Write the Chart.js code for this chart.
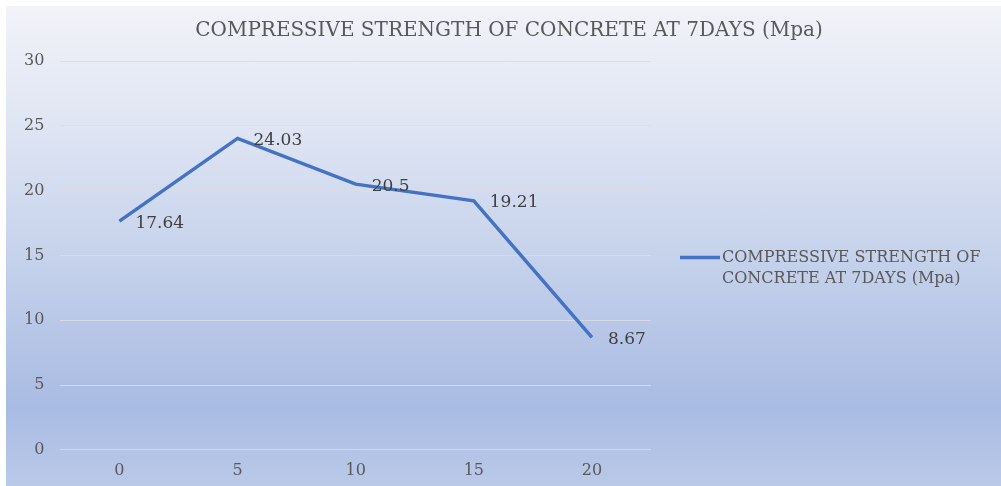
<!DOCTYPE html>
<html>
<head>
<meta charset="utf-8">
<script src="https://cdn.jsdelivr.net/npm/chart.js@4.4.0/dist/chart.umd.min.js"></script>
<style>
  html, body { margin: 0; padding: 0; background: #ffffff; }
  #wrap {
    position: absolute; left: 6px; top: 6px; width: 995px; height: 480px;
    background: linear-gradient(to bottom, #f2f3f9 0%, #dfe5f3 25%, #c8d4ec 50%, #aebfe4 78%, #a9bce3 84%, #bac9e8 100%);
  }
  canvas { display: block; }
</style>
</head>
<body>
<div id="wrap"><canvas id="c" width="995" height="480"></canvas></div>
<script>
const categories = ["0", "5", "10", "15", "20"];
const strengthValues = [17.64, 24.03, 20.5, 19.21, 8.67];
const seriesName = "COMPRESSIVE STRENGTH OF CONCRETE AT 7DAYS (Mpa)";
const legendLines = ["COMPRESSIVE STRENGTH OF", "CONCRETE AT 7DAYS (Mpa)"];
const titleText = "COMPRESSIVE STRENGTH OF CONCRETE AT 7DAYS (Mpa)";

const textColor = "#595959";
const lineColor = "#4472C4";

const titlePlugin = {
  id: "centerTitle",
  afterDraw(chart) {
    const ctx = chart.ctx;
    ctx.save();
    ctx.font = "20px 'DejaVu Serif'";
    ctx.fillStyle = textColor;
    ctx.textAlign = "center";
    ctx.textBaseline = "middle";
    ctx.fillText(titleText, 503, 25);
    ctx.restore();
  }
};

const dataLabelPlugin = {
  id: "dataLabels",
  afterDatasetsDraw(chart) {
    const ctx = chart.ctx;
    const meta = chart.getDatasetMeta(0);
    ctx.save();
    ctx.font = "17px 'DejaVu Serif'";
    ctx.fillStyle = "#404040";
    ctx.textAlign = "left";
    ctx.textBaseline = "middle";
    meta.data.forEach((pt, i) => {
      ctx.fillText(String(chart.data.datasets[0].data[i]), pt.x + 16, pt.y + 2);
    });
    ctx.restore();
  }
};

const sideLegendPlugin = {
  id: "sideLegend",
  afterDraw(chart) {
    const ctx = chart.ctx;
    const a = chart.chartArea;
    const cy = (a.top + a.bottom) / 2;
    const x0 = a.right + 29;
    ctx.save();
    ctx.strokeStyle = lineColor;
    ctx.lineWidth = 3.5;
    ctx.beginPath();
    ctx.moveTo(x0, cy + 2);
    ctx.lineTo(x0 + 40, cy + 2);
    ctx.stroke();
    ctx.font = "16px 'DejaVu Serif'";
    ctx.fillStyle = textColor;
    ctx.textAlign = "left";
    ctx.textBaseline = "middle";
    ctx.fillText(legendLines[0], x0 + 42, cy + 2);
    ctx.fillText(legendLines[1], x0 + 42, cy + 23);
    ctx.restore();
  }
};

new Chart(document.getElementById("c"), {
  type: "line",
  data: {
    labels: categories,
    datasets: [{
      label: seriesName,
      data: strengthValues,
      borderColor: lineColor,
      backgroundColor: lineColor,
      borderWidth: 3.5,
      pointRadius: 0,
      tension: 0,
      fill: false
    }]
  },
  options: {
    responsive: false,
    animation: false,
    layout: { padding: { left: 2, right: 350, top: 55, bottom: -5 } },
    plugins: {
      legend: { display: false },
      tooltip: { enabled: false },
      title: { display: false }
    },
    scales: {
      x: {
        offset: true,
        grid: { display: false, drawTicks: false },
        border: { display: false },
        ticks: { color: textColor, font: { family: "'DejaVu Serif'", size: 16 }, padding: 11 }
      },
      y: {
        min: 0, max: 30,
        ticks: { stepSize: 5, color: textColor, font: { family: "'DejaVu Serif'", size: 16 }, padding: 16 },
        grid: { color: "rgba(220,220,228,0.9)", lineWidth: 1, drawTicks: false },
        border: { display: false }
      }
    }
  },
  plugins: [titlePlugin, dataLabelPlugin, sideLegendPlugin]
});
</script>
</body>
</html>
